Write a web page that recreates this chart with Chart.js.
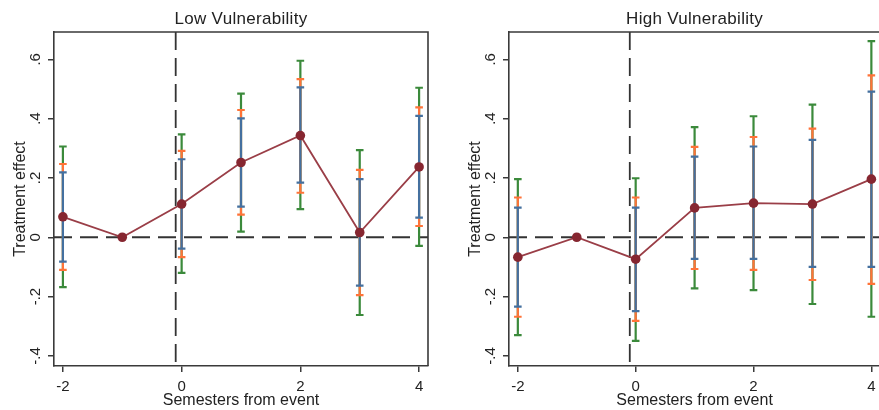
<!DOCTYPE html>
<html><head><meta charset="utf-8">
<script src="https://cdn.jsdelivr.net/npm/chart.js@4.4.1/dist/chart.umd.min.js"></script>
<style>
html,body{margin:0;padding:0;background:#fff;overflow:hidden;width:879px;height:410px;}
#wrapL{position:absolute;left:0;top:0;width:440px;height:410px;}
#wrapR{position:absolute;left:440px;top:0;width:445px;height:410px;}
canvas{display:block;}
</style></head><body>
<div id="wrapL"><canvas id="cL" width="440" height="410"></canvas></div>
<div id="wrapR"><canvas id="cR" width="445" height="410"></canvas></div>
<script>
// ---------- data ----------
const semesters = [-2, -1, 0, 1, 2, 3, 4];
const xTickValues = [-2, 0, 2, 4];
const xTickLabels = ['-2', '0', '2', '4'];
const yTickValues = [-0.4, -0.2, 0, 0.2, 0.4, 0.6];
const yTickLabels = ['-.4', '-.2', '0', '.2', '.4', '.6'];
const panelTitles = ['Low Vulnerability', 'High Vulnerability'];
const xAxisTitle = 'Semesters from event';
const yAxisTitle = 'Treatment effect';
const eventLineX = -0.1;
const zeroLineY = 0;

// Low vulnerability
const lowEffect   = [0.069, 0, 0.112, 0.252, 0.343, 0.016, 0.237];
const lowBlueLo   = [-0.082, null, -0.038, 0.103, 0.184, -0.163, 0.066];
const lowBlueHi   = [0.219, null, 0.263, 0.401, 0.505, 0.196, 0.409];
const lowOrangeLo = [-0.110, null, -0.067, 0.076, 0.150, -0.195, 0.038];
const lowOrangeHi = [0.247, null, 0.291, 0.429, 0.533, 0.227, 0.438];
const lowGreenLo  = [-0.168, null, -0.120, 0.019, 0.095, -0.262, -0.029];
const lowGreenHi  = [0.306, null, 0.347, 0.484, 0.595, 0.294, 0.504];

// High vulnerability
const highEffect   = [-0.067, 0, -0.074, 0.099, 0.115, 0.112, 0.196];
const highBlueLo   = [-0.234, null, -0.249, -0.073, -0.073, -0.100, -0.100];
const highBlueHi   = [0.100, null, 0.100, 0.272, 0.306, 0.328, 0.491];
const highOrangeLo = [-0.268, null, -0.282, -0.107, -0.110, -0.144, -0.157];
const highOrangeHi = [0.134, null, 0.134, 0.305, 0.338, 0.366, 0.546];
const highGreenLo  = [-0.330, null, -0.349, -0.172, -0.178, -0.225, -0.268];
const highGreenHi  = [0.196, null, 0.199, 0.371, 0.408, 0.447, 0.661];

// ---------- styles ----------
const FONT = '"Liberation Sans", Arial, Helvetica, sans-serif';
const AXIS_COLOR = '#3a3a3a';
const GREEN = '#3b8a3b';
const ORANGE = '#ff7338';
const BLUE = '#44709f';
const LINE = '#9a3e47';
const MARKER = '#862630';

Chart.defaults.font.family = FONT;

const decor = {
  id: 'decor',
  beforeDatasetsDraw(chart, args, opts) {
    const {ctx, chartArea: a, scales: {x, y}} = chart;
    ctx.save();
    // reference lines
    ctx.strokeStyle = '#333';
    ctx.lineWidth = 1.8;
    ctx.setLineDash([18, 8]);
    const y0 = y.getPixelForValue(zeroLineY);
    ctx.beginPath(); ctx.moveTo(a.left, y0); ctx.lineTo(a.right, y0); ctx.stroke();
    const xv = x.getPixelForValue(eventLineX);
    ctx.beginPath(); ctx.moveTo(xv, a.top); ctx.lineTo(xv, a.bottom); ctx.stroke();
    ctx.setLineDash([]);
    // confidence intervals
    const cis = opts.cis;
    ctx.lineWidth = 2.2;
    cis.forEach(ci => {
      ctx.strokeStyle = ci.color;
      semesters.forEach((s, i) => {
        if (ci.lo[i] === null) return;
        const px = x.getPixelForValue(s);
        const pl = y.getPixelForValue(ci.lo[i]);
        const ph = y.getPixelForValue(ci.hi[i]);
        ctx.beginPath();
        ctx.moveTo(px, pl); ctx.lineTo(px, ph);
        ctx.moveTo(px - 3.8, pl); ctx.lineTo(px + 3.8, pl);
        ctx.moveTo(px - 3.8, ph); ctx.lineTo(px + 3.8, ph);
        ctx.stroke();
      });
    });
    ctx.restore();
  },
  afterDraw(chart, args, opts) {
    const {ctx, chartArea: a, scales: {y}} = chart;
    ctx.save();
    // frame (top and right)
    ctx.strokeStyle = AXIS_COLOR;
    ctx.lineWidth = 1.6;
    ctx.beginPath();
    ctx.moveTo(a.left, a.top); ctx.lineTo(a.right, a.top); ctx.lineTo(a.right, a.bottom);
    ctx.stroke();
    // rotated y tick labels
    ctx.fillStyle = '#222';
    ctx.font = '15px ' + FONT;
    ctx.textAlign = 'center';
    ctx.textBaseline = 'middle';
    yTickValues.forEach((v, i) => {
      ctx.save();
      ctx.translate(a.left - 18.5, y.getPixelForValue(v));
      ctx.rotate(-Math.PI / 2);
      ctx.fillText(yTickLabels[i], 0, 0);
      ctx.restore();
    });
    // panel title
    ctx.font = '17px ' + FONT;
    if ('letterSpacing' in ctx) ctx.letterSpacing = '0.3px';
    ctx.textBaseline = 'alphabetic';
    ctx.fillText(opts.title, (a.left + a.right) / 2, 24);
    ctx.restore();
  }
};

function makeChart(id, title, effect, cis, yAxisWidth, rightPad, yTitlePad) {
  return new Chart(document.getElementById(id), {
    type: 'scatter',
    data: {
      datasets: [{
        data: semesters.map((s, i) => ({x: s, y: effect[i]})),
        showLine: true,
        borderColor: LINE,
        borderWidth: 1.8,
        pointRadius: 4.8,
        pointBackgroundColor: MARKER,
        pointBorderWidth: 0,
        tension: 0
      }]
    },
    options: {
      responsive: false,
      animation: false,
      events: [],
      layout: {padding: {top: 32, left: 0, right: rightPad, bottom: 0}},
      plugins: {
        legend: {display: false},
        tooltip: {enabled: false},
        decor: {title: title, cis: cis}
      },
      scales: {
        x: {
          type: 'linear', min: -2.15, max: 4.15,
          afterBuildTicks: s => { s.ticks = xTickValues.map(v => ({value: v})); },
          afterFit: s => { s.height = 44; },
          ticks: {
            color: '#222', font: {size: 15}, padding: 6, maxRotation: 0,
            callback: v => xTickLabels[xTickValues.indexOf(v)]
          },
          grid: {display: true, drawOnChartArea: false, drawTicks: true, tickLength: 6, color: AXIS_COLOR, lineWidth: 1.5},
          border: {display: true, color: AXIS_COLOR, width: 1.6},
          title: {display: true, text: xAxisTitle, color: '#222', font: {size: 16}, padding: {top: 0, bottom: 0}}
        },
        y: {
          type: 'linear', min: -0.434, max: 0.692,
          afterBuildTicks: s => { s.ticks = yTickValues.map(v => ({value: v})); },
          afterFit: s => { s.width = yAxisWidth; },
          ticks: {color: 'rgba(0,0,0,0)', font: {size: 15}},
          grid: {display: true, drawOnChartArea: false, drawTicks: true, tickLength: 6, color: AXIS_COLOR, lineWidth: 1.5},
          border: {display: true, color: AXIS_COLOR, width: 1.6},
          title: {display: true, text: yAxisTitle, color: '#222', font: {size: 16}, padding: {top: yTitlePad, bottom: 0}}
        }
      }
    },
    plugins: [decor]
  });
}

makeChart('cL', panelTitles[0], lowEffect, [
  {color: GREEN, lo: lowGreenLo, hi: lowGreenHi},
  {color: ORANGE, lo: lowOrangeLo, hi: lowOrangeHi},
  {color: BLUE, lo: lowBlueLo, hi: lowBlueHi}
], 54, 12, 10.5);

makeChart('cR', panelTitles[1], highEffect, [
  {color: GREEN, lo: highGreenLo, hi: highGreenHi},
  {color: ORANGE, lo: highOrangeLo, hi: highOrangeHi},
  {color: BLUE, lo: highBlueLo, hi: highBlueHi}
], 69, 4, 25.5);
</script>
</body></html>
